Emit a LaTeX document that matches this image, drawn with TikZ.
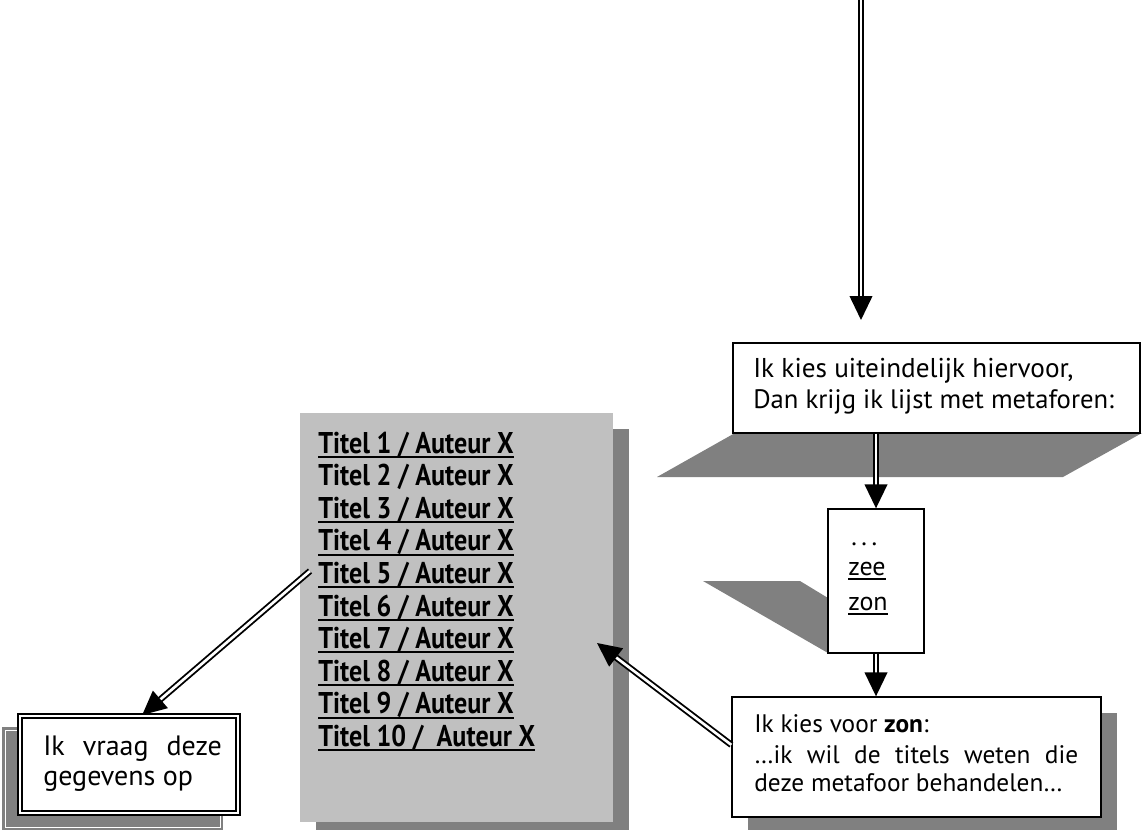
\documentclass[tikz,border=0pt]{standalone}
\usepackage{fontspec}
\setmainfont{PT Sans}
\newfontfamily\listfont{PT Sans}[FakeStretch=0.87]
\usetikzlibrary{arrows.meta,calc}
\definecolor{shadowgray}{HTML}{808080}
\definecolor{listgray}{HTML}{C0C0C0}
\newlength\ulwd
\newcommand\myul[1]{\settowidth\ulwd{#1}\rlap{\rule[-3.6pt]{\ulwd}{1.5pt}}#1}
\newcommand\fs[1]{\fontsize{#1}{#1}\selectfont}
\tikzset{
  box/.style={draw, line width=1pt, fill=white, inner sep=0pt},
  txt/.style={anchor=base west, inner sep=0pt},
  shadowfill/.style={fill=shadowgray},
  dbl/.style={draw, double=white, double distance=2pt, line width=1.4pt,
    -{Triangle[length=18pt,width=17pt]}},
}
\begin{document}
\begin{tikzpicture}[x=0.75pt,y=-0.75pt]
\useasboundingbox (0,0) rectangle (1143,831);
% shadows
\path[shadowfill] (735,433) -- (1142,433) -- (1063,477) -- (657,477) -- cycle;
\path[shadowfill] (703,581) -- (800,581) -- (828,598) -- (828,653) -- cycle;
\path[shadowfill] (748,713) rectangle (1117,830);
\path[shadowfill] (316,429) rectangle (629,830);
\path[shadowfill] (2,727) rectangle (223,830);
\draw[white, line width=0.75pt] (5,730) rectangle (220,827);
% boxes
\node[box, minimum width=305.25pt, minimum height=67.5pt] (b1) at (936.5,388) {};
\node[box, minimum width=72pt, minimum height=108pt] (b2) at (876,581) {};
\node[box, minimum width=276.75pt, minimum height=90pt] (b3) at (916.5,757) {};
\node[fill=listgray, inner sep=0pt, minimum width=234.75pt, minimum height=306.75pt] (lst) at (456.5,617.5) {};
\node[draw, double=white, double distance=1.5pt, line width=1.5pt, fill=white, inner sep=0pt,
  minimum width=163.5pt, minimum height=72.75pt] (b4) at (129,764.5) {};
% texts box 1
\node[txt] (t1a) at (753,377) {\fs{20.4}Ik kies uiteindelijk hiervoor,};
\node[txt] (t1b) at (753,408) {\fs{20}Dan krijg ik lijst met metaforen:};
% box 2
\node[txt] (t2a) at (851,545) {\fs{19.5}\makebox[19.5pt][s]{.\hfil.\hfil.}};
\node[txt] (t2b) at (848,575) {\fs{19.5}\myul{zee}};
\node[txt] (t2c) at (848,610) {\fs{19.5}\myul{zon}};
% box 3
\node[txt] (t3a) at (754,732) {\fs{19}Ik kies voor \textbf{zon}:};
\node[txt] (t3b) at (754,763) {\fs{19}\makebox[243pt][s]{\dots ik wil de titels weten die}};
\node[txt] (t3c) at (754,791) {\fs{19}deze metafoor behandelen\dots};
% box 4
\node[txt] (t4a) at (43,755) {\fs{21}\makebox[134pt][s]{Ik vraag deze}};
\node[txt] (t4b) at (43,785) {\fs{21}gegevens op};
% list
\foreach \i in {1,3,4,5,6,7,8,9}{
  \node[txt] (l\i) at (318,{453+32.6*(\i-1)}) {\listfont\fs{22.5}\bfseries\myul{Titel \i\ / Auteur X}};
}
\node[txt] (l2) at (318,485.6) {\listfont\fs{22.5}\bfseries Titel 2 / Auteur X};
\node[txt] (l10) at (318,746.4) {\listfont\fs{22.5}\bfseries\myul{Titel 10 /\ \ Auteur X}};
% connectors
\coordinate (top) at (861,-5);
\coordinate (topend) at (861,320);
\coordinate (l5s) at (310,571);
\coordinate (lsttip) at (597,643);
\draw[dbl] (top) -- (topend);
\draw[dbl] (b1.south -| b2.north) -- (b2.north);
\draw[dbl] (b2.south) -- (b3.north -| b2.south);
\draw[dbl] ($(b3.north west)!0.4!(b3.south west)$) -- (lsttip);
\draw[dbl] (l5s) -- ($(b4.north west)!0.56!(b4.north east)$);
\end{tikzpicture}
\end{document}
